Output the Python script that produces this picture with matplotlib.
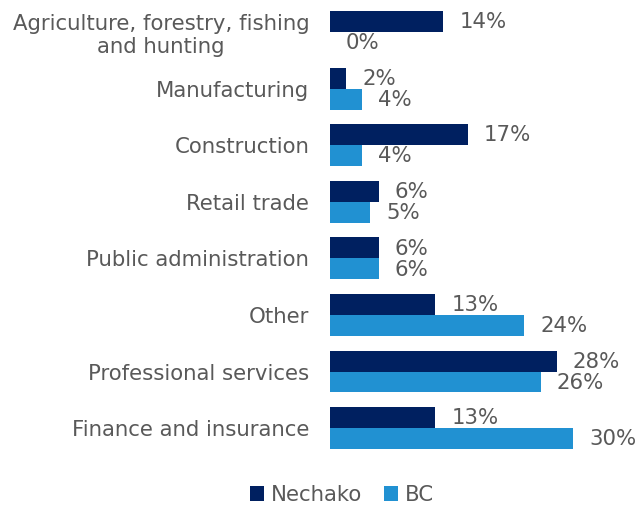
import matplotlib.pyplot as plt
import numpy as np

# share of workers by industry, percent
categories = ["Agriculture, forestry, fishing\nand hunting", "Manufacturing",
              "Construction", "Retail trade", "Public administration",
              "Other", "Professional services", "Finance and insurance"]
nechako = [14, 2, 17, 6, 6, 13, 28, 13]
bc = [0, 4, 4, 5, 6, 24, 26, 30]

NAVY = '#002060'
BLUE = '#2191D2'
GREY = '#595959'
FS = 15.3

fig = plt.figure(figsize=(6.41, 5.08), dpi=100)
ax = fig.add_axes([330 / 641, 38 / 508, 311 / 641, 470 / 508])

y = np.arange(len(categories))
h = 0.37
b1 = ax.barh(y - h / 2, nechako, height=h, color=NAVY, label='Nechako')
b2 = ax.barh(y + h / 2, bc, height=h, color=BLUE, label='BC')

for bars, vals in ((b1, nechako), (b2, bc)):
    for bar, v in zip(bars, vals):
        ax.annotate(f'{v}%', (v, bar.get_y() + bar.get_height() / 2),
                    xytext=(11.5, -0.5), textcoords='offset points',
                    va='center', ha='left', fontsize=FS, color=GREY)

ax.set_xlim(0, 38.4)
ax.set_ylim(7.74, -0.565)
ax.set_yticks(y)
ax.set_yticklabels(categories, fontsize=FS, color=GREY, multialignment='center')
ax.tick_params(axis='y', length=0, pad=15)
ax.set_xticks([])
for s in ax.spines.values():
    s.set_visible(False)

fig.legend(loc='center', bbox_to_anchor=(342 / 641, 1 - 495 / 508), ncol=2,
           frameon=False, fontsize=FS, labelcolor=GREY, handlelength=0.65,
           handleheight=0.65, handletextpad=0.35, columnspacing=1.0)

fig.savefig('out.png', dpi=100)
